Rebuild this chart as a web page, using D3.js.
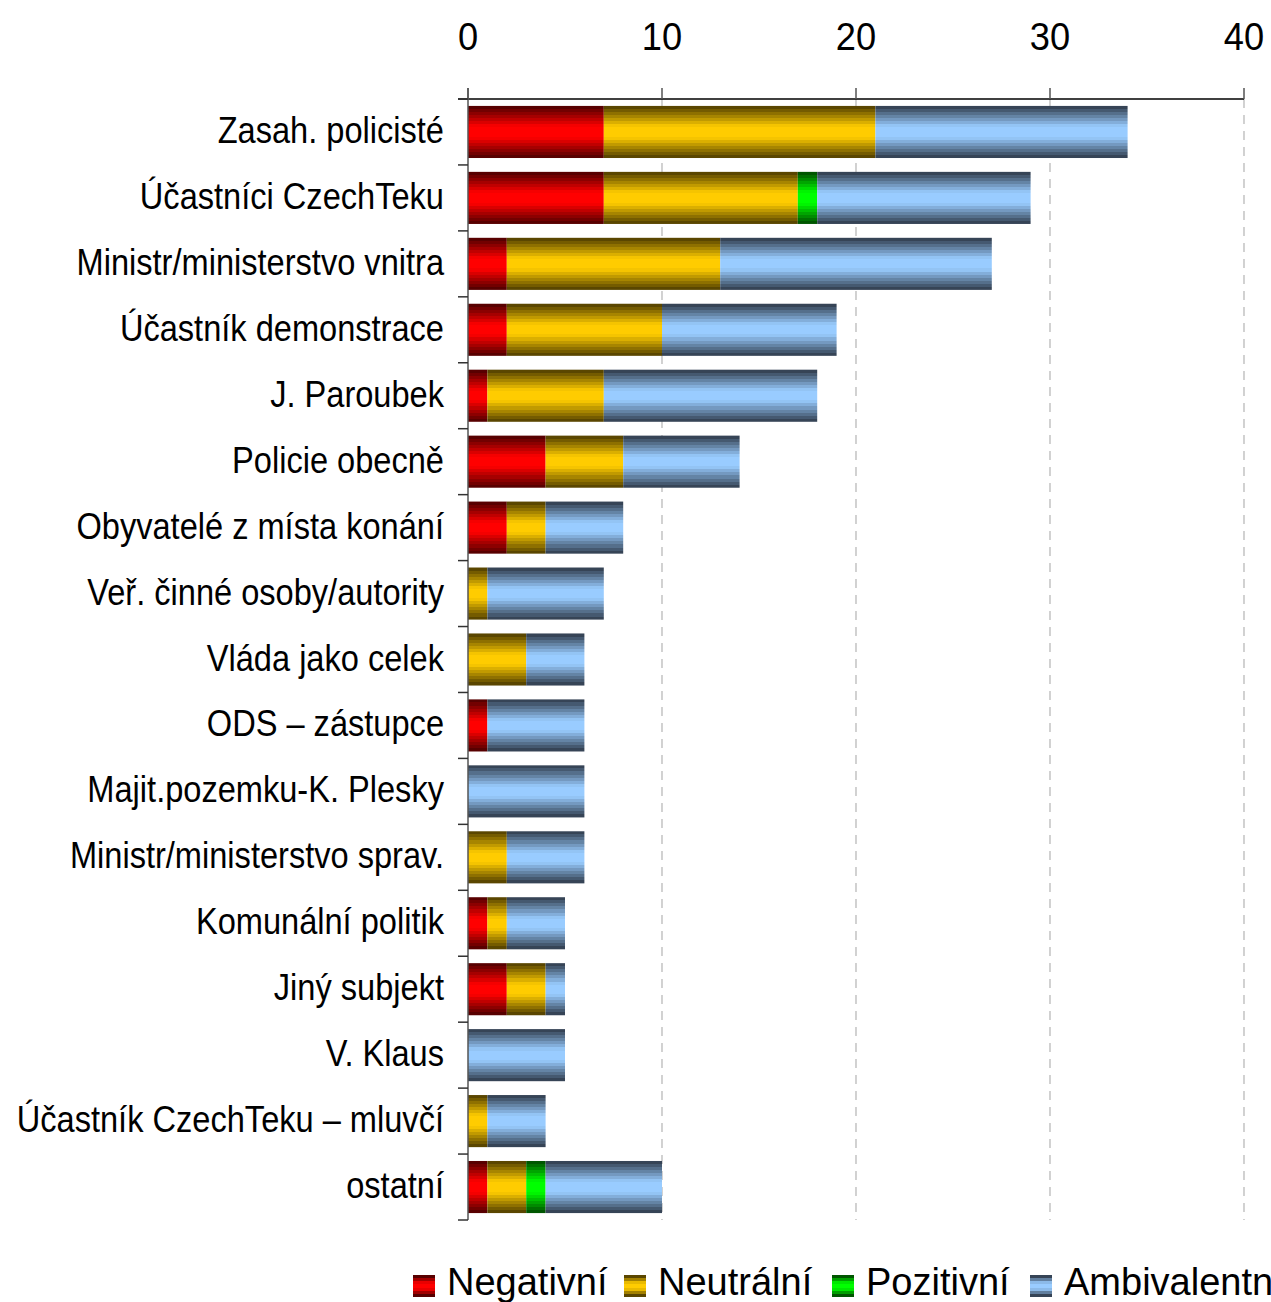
<!DOCTYPE html>
<html><head><meta charset="utf-8">
<script src="https://cdn.jsdelivr.net/npm/d3@7"></script>
<style>body{margin:0;background:#fff;font-family:"Liberation Sans",Arial,sans-serif;}</style>
</head><body>
<svg id="c" width="1271" height="1302"></svg>
<script>
const categories = ["Zasah. policisté","Účastníci CzechTeku","Ministr/ministerstvo vnitra","Účastník demonstrace","J. Paroubek","Policie obecně","Obyvatelé z místa konání","Veř. činné osoby/autority","Vláda jako celek","ODS – zástupce","Majit.pozemku-K. Plesky","Ministr/ministerstvo sprav.","Komunální politik","Jiný subjekt","V. Klaus","Účastník CzechTeku – mluvčí","ostatní"];
const seriesNames = ["Negativní","Neutrální","Pozitivní","Ambivalentní"];
const negativni =    [7, 7, 2, 2, 1, 4, 2, 0, 0, 1, 0, 0, 1, 2, 0, 0, 1];
const neutralni =    [14,10,11, 8, 6, 4, 2, 1, 3, 0, 0, 2, 1, 2, 0, 1, 2];
const pozitivni =    [0, 1, 0, 0, 0, 0, 0, 0, 0, 0, 0, 0, 0, 0, 0, 0, 1];
const ambivalentni = [13,11,14, 9,11, 6, 4, 6, 3, 5, 6, 4, 3, 1, 5, 3, 6];
const xTicks = [0,10,20,30,40];

const colors = [["#580000","#ff0000"],["#5a4600","#ffcc00"],["#005600","#00ff00"],["#364456","#99ccff"]];

const svg = d3.select("#c");
const defs = svg.append("defs");
colors.forEach((c,i)=>{
  const g = defs.append("linearGradient").attr("id","g"+i).attr("x1",0).attr("y1",0).attr("x2",0).attr("y2",1);
  const N = 17, mid = (N-1)/2;
  const ip = d3.interpolateRgb(c[0], c[1]);
  for(let k=0;k<N;k++){
    const d = Math.abs(k-mid)/mid;
    const f = Math.min(1, (1-d)*1.25);
    const col = ip(f);
    g.append("stop").attr("offset",(k/N*100)+"%").attr("stop-color",col);
    g.append("stop").attr("offset",((k+1)/N*100)+"%").attr("stop-color",col);
  }
  const gl = defs.append("linearGradient").attr("id","l"+i).attr("x1",0).attr("y1",0).attr("x2",0).attr("y2",1);
  const M = 7, mm=(M-1)/2;
  for(let k=0;k<M;k++){
    const d = Math.abs(k-mm)/mm;
    const col = ip(Math.min(1,(1-d)*1.3));
    gl.append("stop").attr("offset",(k/M*100)+"%").attr("stop-color",col);
    gl.append("stop").attr("offset",((k+1)/M*100)+"%").attr("stop-color",col);
  }
});

const x = d3.scaleLinear().domain([0,40]).range([468,1244]);
const y = d3.scaleBand().domain(categories).range([99,1220]).paddingInner(0.21).paddingOuter(0.105);

// gridlines
svg.append("g").selectAll("line").data(xTicks.filter(t=>t>0)).join("line")
  .attr("x1",d=>x(d)).attr("x2",d=>x(d)).attr("y1",99).attr("y2",1220)
  .attr("stroke","#b4b4b4").attr("stroke-width",1.2).attr("stroke-dasharray","9,7");

// bars
const stackData = categories.map((c,i)=>({cat:c,"Negativní":negativni[i],"Neutrální":neutralni[i],"Pozitivní":pozitivni[i],"Ambivalentní":ambivalentni[i]}));
const stack = d3.stack().keys(seriesNames)(stackData);
stack.forEach((s,si)=>{
  svg.append("g").selectAll("rect").data(s.filter(d=>d[1]-d[0]>0)).join("rect")
    .attr("x",d=>x(d[0])).attr("width",d=>x(d[1])-x(d[0]))
    .attr("y",d=>y(d.data.cat)).attr("height",y.bandwidth())
    .attr("fill","url(#g"+si+")");
});

// top axis
const axis = svg.append("g");
axis.append("line").attr("x1",458).attr("x2",x(40)).attr("y1",99).attr("y2",99).attr("stroke","#000").attr("stroke-width",1.5);
axis.selectAll(".t").data(xTicks).join("line").attr("class","t")
  .attr("x1",d=>x(d)).attr("x2",d=>x(d)).attr("y1",88).attr("y2",99).attr("stroke","#555").attr("stroke-width",1.5);
axis.selectAll("text").data(xTicks).join("text")
  .attr("transform",d=>`translate(${x(d)},50) scale(0.93,1)`).attr("text-anchor","middle")
  .attr("font-size",39).attr("fill","#000").text(d=>d);

// left axis
svg.append("line").attr("x1",468).attr("x2",468).attr("y1",88).attr("y2",1220).attr("stroke","#555").attr("stroke-width",1.5);
const bounds = d3.range(categories.length+1).map(i=>99+i*(1121/categories.length));
svg.append("g").selectAll("line").data(bounds).join("line")
  .attr("x1",458).attr("x2",468).attr("y1",d=>d).attr("y2",d=>d).attr("stroke","#333").attr("stroke-width",1.5);
svg.append("g").selectAll("text").data(categories).join("text")
  .attr("transform",d=>`translate(444,${y(d)+y.bandwidth()/2+11}) scale(0.905,1)`)
  .attr("text-anchor","end").attr("font-size",36).attr("fill","#000").text(d=>d);

// legend
const legX = [413,624,832,1030];
const leg = svg.append("g");
seriesNames.forEach((n,i)=>{
  leg.append("rect").attr("x",legX[i]).attr("y",1275).attr("width",22).attr("height",22).attr("fill","url(#l"+i+")");
  leg.append("text").attr("x",legX[i]+34).attr("y",1295).attr("font-size",38).attr("fill","#000").text(n);
});
</script>
</body></html>
